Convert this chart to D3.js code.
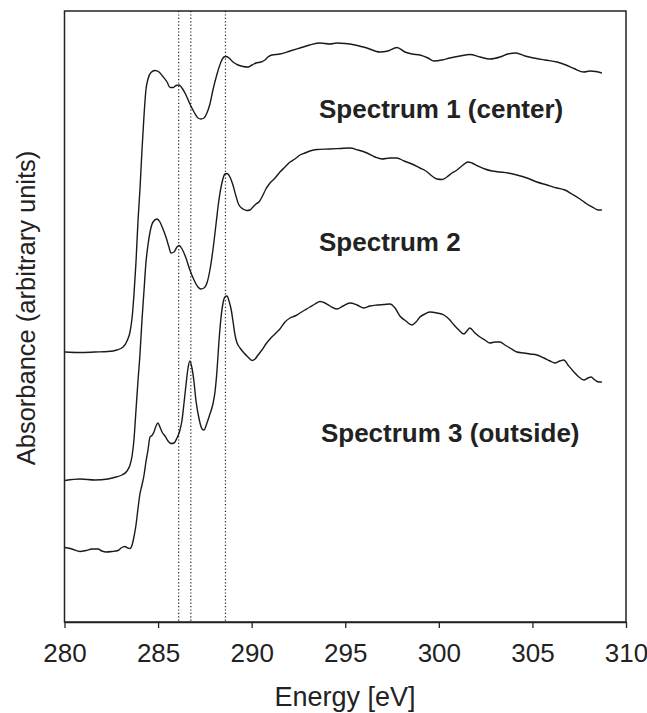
<!DOCTYPE html>
<html>
<head>
<meta charset="utf-8">
<script src="https://cdn.jsdelivr.net/npm/d3@7"></script>
<style>
  body { margin: 0; background: #fff; }
  svg { display: block; font-family: "Liberation Sans", Arial, sans-serif; }
</style>
</head>
<body>
<div id="chart"></div>
<script>
// energy [eV], absorbance (arbitrary units, spectra stacked)
const spectrum1 = [
  [280.03, 2.70], [280.83, 2.695], [281.63, 2.70], [282.32, 2.705], [282.80, 2.72], [283.13, 2.75],
  [283.34, 2.81], [283.50, 2.90], [283.61, 3.04], [283.71, 3.27], [283.82, 3.60], [283.93, 4.02],
  [284.03, 4.32], [284.14, 4.72], [284.25, 5.07], [284.35, 5.32], [284.46, 5.43], [284.62, 5.495],
  [284.83, 5.515], [285.05, 5.50], [285.26, 5.455], [285.48, 5.40], [285.64, 5.345], [285.80, 5.345],
  [285.96, 5.365], [286.12, 5.37], [286.28, 5.34], [286.49, 5.27], [286.70, 5.18], [286.92, 5.10],
  [287.13, 5.04], [287.29, 5.03], [287.45, 5.04], [287.61, 5.09], [287.77, 5.18], [287.93, 5.32],
  [288.15, 5.48], [288.36, 5.60], [288.52, 5.65], [288.63, 5.655], [288.79, 5.64], [289.00, 5.60],
  [289.27, 5.57], [289.54, 5.555], [289.80, 5.55], [290.02, 5.57], [290.23, 5.59], [290.50, 5.60],
  [290.71, 5.62], [290.87, 5.65], [291.08, 5.67], [291.51, 5.68], [292.05, 5.71], [292.58, 5.74],
  [293.11, 5.77], [293.65, 5.79], [294.18, 5.78], [294.56, 5.79], [294.99, 5.785], [295.52, 5.77],
  [296.16, 5.74], [296.85, 5.70], [297.28, 5.71], [297.76, 5.745], [298.19, 5.70], [298.56, 5.68],
  [298.99, 5.67], [299.42, 5.64], [299.74, 5.61], [300.17, 5.62], [300.59, 5.64], [301.13, 5.66],
  [301.66, 5.675], [302.20, 5.65], [302.73, 5.63], [303.27, 5.65], [303.69, 5.68], [304.12, 5.69],
  [304.60, 5.66], [305.08, 5.64], [305.67, 5.62], [306.31, 5.60], [306.79, 5.57], [307.22, 5.535],
  [307.75, 5.50], [308.07, 5.51], [308.39, 5.505], [308.71, 5.49]
];

const spectrum2 = [
  [280.03, 1.415], [280.83, 1.43], [281.63, 1.42], [282.32, 1.43], [282.75, 1.45], [283.07, 1.47],
  [283.34, 1.51], [283.50, 1.57], [283.61, 1.66], [283.71, 1.82], [283.82, 2.12], [283.93, 2.42],
  [284.03, 2.67], [284.14, 3.02], [284.25, 3.32], [284.35, 3.59], [284.46, 3.77], [284.57, 3.90],
  [284.73, 4.00], [284.94, 4.03], [285.10, 4.00], [285.26, 3.93], [285.42, 3.85], [285.58, 3.75],
  [285.69, 3.69], [285.85, 3.70], [286.01, 3.75], [286.12, 3.765], [286.28, 3.73], [286.49, 3.64],
  [286.70, 3.52], [286.92, 3.42], [287.13, 3.35], [287.29, 3.33], [287.45, 3.34], [287.61, 3.39],
  [287.77, 3.52], [287.93, 3.72], [288.09, 3.97], [288.25, 4.22], [288.41, 4.39], [288.57, 4.48],
  [288.68, 4.485], [288.84, 4.45], [289.00, 4.37], [289.16, 4.26], [289.32, 4.17], [289.54, 4.13],
  [289.75, 4.115], [289.91, 4.12], [290.07, 4.15], [290.23, 4.18], [290.39, 4.20], [290.55, 4.25],
  [290.76, 4.33], [290.98, 4.39], [291.25, 4.44], [291.51, 4.50], [291.78, 4.55], [292.05, 4.60],
  [292.31, 4.63], [292.58, 4.67], [292.85, 4.69], [293.11, 4.71], [293.49, 4.725], [294.18, 4.73],
  [294.72, 4.735], [295.25, 4.74], [295.68, 4.72], [296.16, 4.69], [296.59, 4.65], [296.96, 4.63],
  [297.39, 4.64], [297.76, 4.64], [298.14, 4.61], [298.56, 4.58], [298.99, 4.54], [299.31, 4.51],
  [299.63, 4.46], [299.90, 4.43], [300.17, 4.425], [300.43, 4.45], [300.70, 4.49], [300.97, 4.52],
  [301.29, 4.57], [301.55, 4.60], [301.77, 4.59], [302.09, 4.56], [302.46, 4.53], [302.84, 4.51],
  [303.27, 4.50], [303.69, 4.49], [304.17, 4.47], [304.71, 4.44], [305.24, 4.40], [305.78, 4.37],
  [306.31, 4.34], [306.74, 4.32], [307.11, 4.28], [307.54, 4.23], [307.91, 4.18], [308.29, 4.14],
  [308.50, 4.12], [308.71, 4.12]
];

const spectrum3 = [
  [280.03, 0.745], [280.40, 0.73], [280.83, 0.705], [281.15, 0.715], [281.47, 0.73], [281.79, 0.73],
  [282.00, 0.71], [282.22, 0.70], [282.54, 0.705], [282.86, 0.715], [283.02, 0.74], [283.23, 0.755],
  [283.39, 0.74], [283.50, 0.735], [283.61, 0.77], [283.71, 0.85], [283.82, 0.97], [283.93, 1.14],
  [284.03, 1.28], [284.14, 1.37], [284.25, 1.47], [284.35, 1.60], [284.46, 1.72], [284.57, 1.85],
  [284.67, 1.865], [284.78, 1.90], [284.89, 1.96], [284.99, 1.99], [285.10, 1.95], [285.21, 1.90],
  [285.37, 1.86], [285.53, 1.81], [285.69, 1.785], [285.85, 1.79], [286.01, 1.84], [286.17, 1.92],
  [286.28, 2.02], [286.38, 2.18], [286.49, 2.37], [286.60, 2.54], [286.70, 2.61], [286.81, 2.54],
  [286.92, 2.40], [287.02, 2.22], [287.18, 2.04], [287.35, 1.93], [287.45, 1.92], [287.61, 1.99],
  [287.77, 2.08], [287.93, 2.18], [288.04, 2.30], [288.15, 2.52], [288.25, 2.80], [288.36, 3.04],
  [288.47, 3.19], [288.57, 3.25], [288.68, 3.26], [288.79, 3.21], [288.90, 3.13], [289.00, 3.01],
  [289.11, 2.87], [289.22, 2.79], [289.38, 2.74], [289.59, 2.69], [289.80, 2.65], [290.02, 2.615],
  [290.18, 2.63], [290.34, 2.67], [290.55, 2.72], [290.76, 2.78], [290.98, 2.83], [291.25, 2.88],
  [291.51, 2.93], [291.78, 3.00], [292.05, 3.04], [292.31, 3.06], [292.58, 3.09], [292.85, 3.12],
  [293.11, 3.15], [293.38, 3.18], [293.65, 3.205], [293.92, 3.19], [294.18, 3.16], [294.56, 3.13],
  [294.88, 3.16], [295.25, 3.19], [295.63, 3.17], [296.00, 3.14], [296.32, 3.16], [296.69, 3.17],
  [297.07, 3.175], [297.39, 3.18], [297.66, 3.14], [297.92, 3.06], [298.24, 3.01], [298.56, 2.97],
  [298.78, 3.00], [298.99, 3.05], [299.26, 3.08], [299.53, 3.10], [299.90, 3.09], [300.27, 3.07],
  [300.54, 3.03], [300.81, 2.97], [301.07, 2.92], [301.34, 2.88], [301.50, 2.91], [301.66, 2.94],
  [301.93, 2.89], [302.20, 2.85], [302.46, 2.82], [302.73, 2.79], [303.00, 2.80], [303.27, 2.80],
  [303.53, 2.77], [303.80, 2.74], [304.17, 2.70], [304.55, 2.69], [304.87, 2.68], [305.24, 2.67],
  [305.61, 2.64], [305.94, 2.61], [306.20, 2.59], [306.47, 2.61], [306.68, 2.62], [306.90, 2.57],
  [307.22, 2.50], [307.48, 2.45], [307.75, 2.42], [307.97, 2.44], [308.13, 2.45], [308.34, 2.42],
  [308.55, 2.40], [308.71, 2.40]
];

const spectra = [spectrum1, spectrum2, spectrum3];
const labels = ['Spectrum 1 (center)', 'Spectrum 2', 'Spectrum 3 (outside)'];
const labelPos = [[293.6, 5.04], [293.6, 3.71], [293.7, 1.80]]; // [energy, absorbance] of text start/baseline
const markers = [286.1, 286.75, 288.6]; // dotted reference lines
const xTicks = [280, 285, 290, 295, 300, 305, 310];

const width = 647;
const height = 713;
const margin = { top: 11, right: 21, bottom: 91, left: 64.5 };

const svg = d3.select('#chart').append('svg')
  .attr('width', width)
  .attr('height', height);

const x = d3.scaleLinear()
  .domain([280, 310])
  .range([margin.left, width - margin.right]);

const y = d3.scaleLinear()
  .domain([0, 6.11])
  .range([height - margin.bottom, margin.top]);

// dotted marker lines
svg.append('g')
  .selectAll('line')
  .data(markers)
  .join('line')
  .attr('x1', d => x(d)).attr('x2', d => x(d))
  .attr('y1', y.range()[1]).attr('y2', y.range()[0])
  .attr('stroke', '#222')
  .attr('stroke-width', 1.2)
  .attr('stroke-dasharray', '1.2,2.2');

// spectra
const line = d3.line()
  .x(d => x(d[0]))
  .y(d => y(d[1]))
  .curve(d3.curveMonotoneX);

svg.append('g')
  .selectAll('path')
  .data(spectra)
  .join('path')
  .attr('d', line)
  .attr('fill', 'none')
  .attr('stroke', '#1a1a1a')
  .attr('stroke-width', 1.4);

// frame (top, right, left)
svg.append('rect')
  .attr('x', x(280)).attr('y', y(6.11))
  .attr('width', x(310) - x(280))
  .attr('height', y(0) - y(6.11))
  .attr('fill', 'none')
  .attr('stroke', '#222')
  .attr('stroke-width', 1.5);

// x axis
const xAxis = svg.append('g')
  .attr('transform', `translate(0, ${y(0)})`)
  .call(d3.axisBottom(x).tickValues(xTicks).tickSize(6).tickPadding(15.5).tickSizeOuter(0));

xAxis.select('.domain').attr('stroke', '#222').attr('stroke-width', 1.5);
xAxis.selectAll('.tick line').attr('stroke', '#222').attr('stroke-width', 1.3);
xAxis.selectAll('text')
  .attr('fill', '#222')
  .style('font-size', '26px')
  .style('font-family', '"Liberation Sans", Arial, sans-serif');

// axis titles
svg.append('text')
  .attr('x', 345)
  .attr('y', 706)
  .attr('text-anchor', 'middle')
  .attr('fill', '#222')
  .style('font-size', '27px')
  .text('Energy [eV]');

svg.append('text')
  .attr('transform', 'translate(35, 308) rotate(-90)')
  .attr('text-anchor', 'middle')
  .attr('fill', '#222')
  .style('font-size', '25.5px')
  .text('Absorbance (arbitrary units)');

// spectrum labels
svg.append('g')
  .selectAll('text')
  .data(labels)
  .join('text')
  .attr('x', (d, i) => x(labelPos[i][0]))
  .attr('y', (d, i) => y(labelPos[i][1]))
  .attr('fill', '#222')
  .style('font-size', '26px')
  .style('font-weight', 'bold')
  .text(d => d);
</script>
</body>
</html>
